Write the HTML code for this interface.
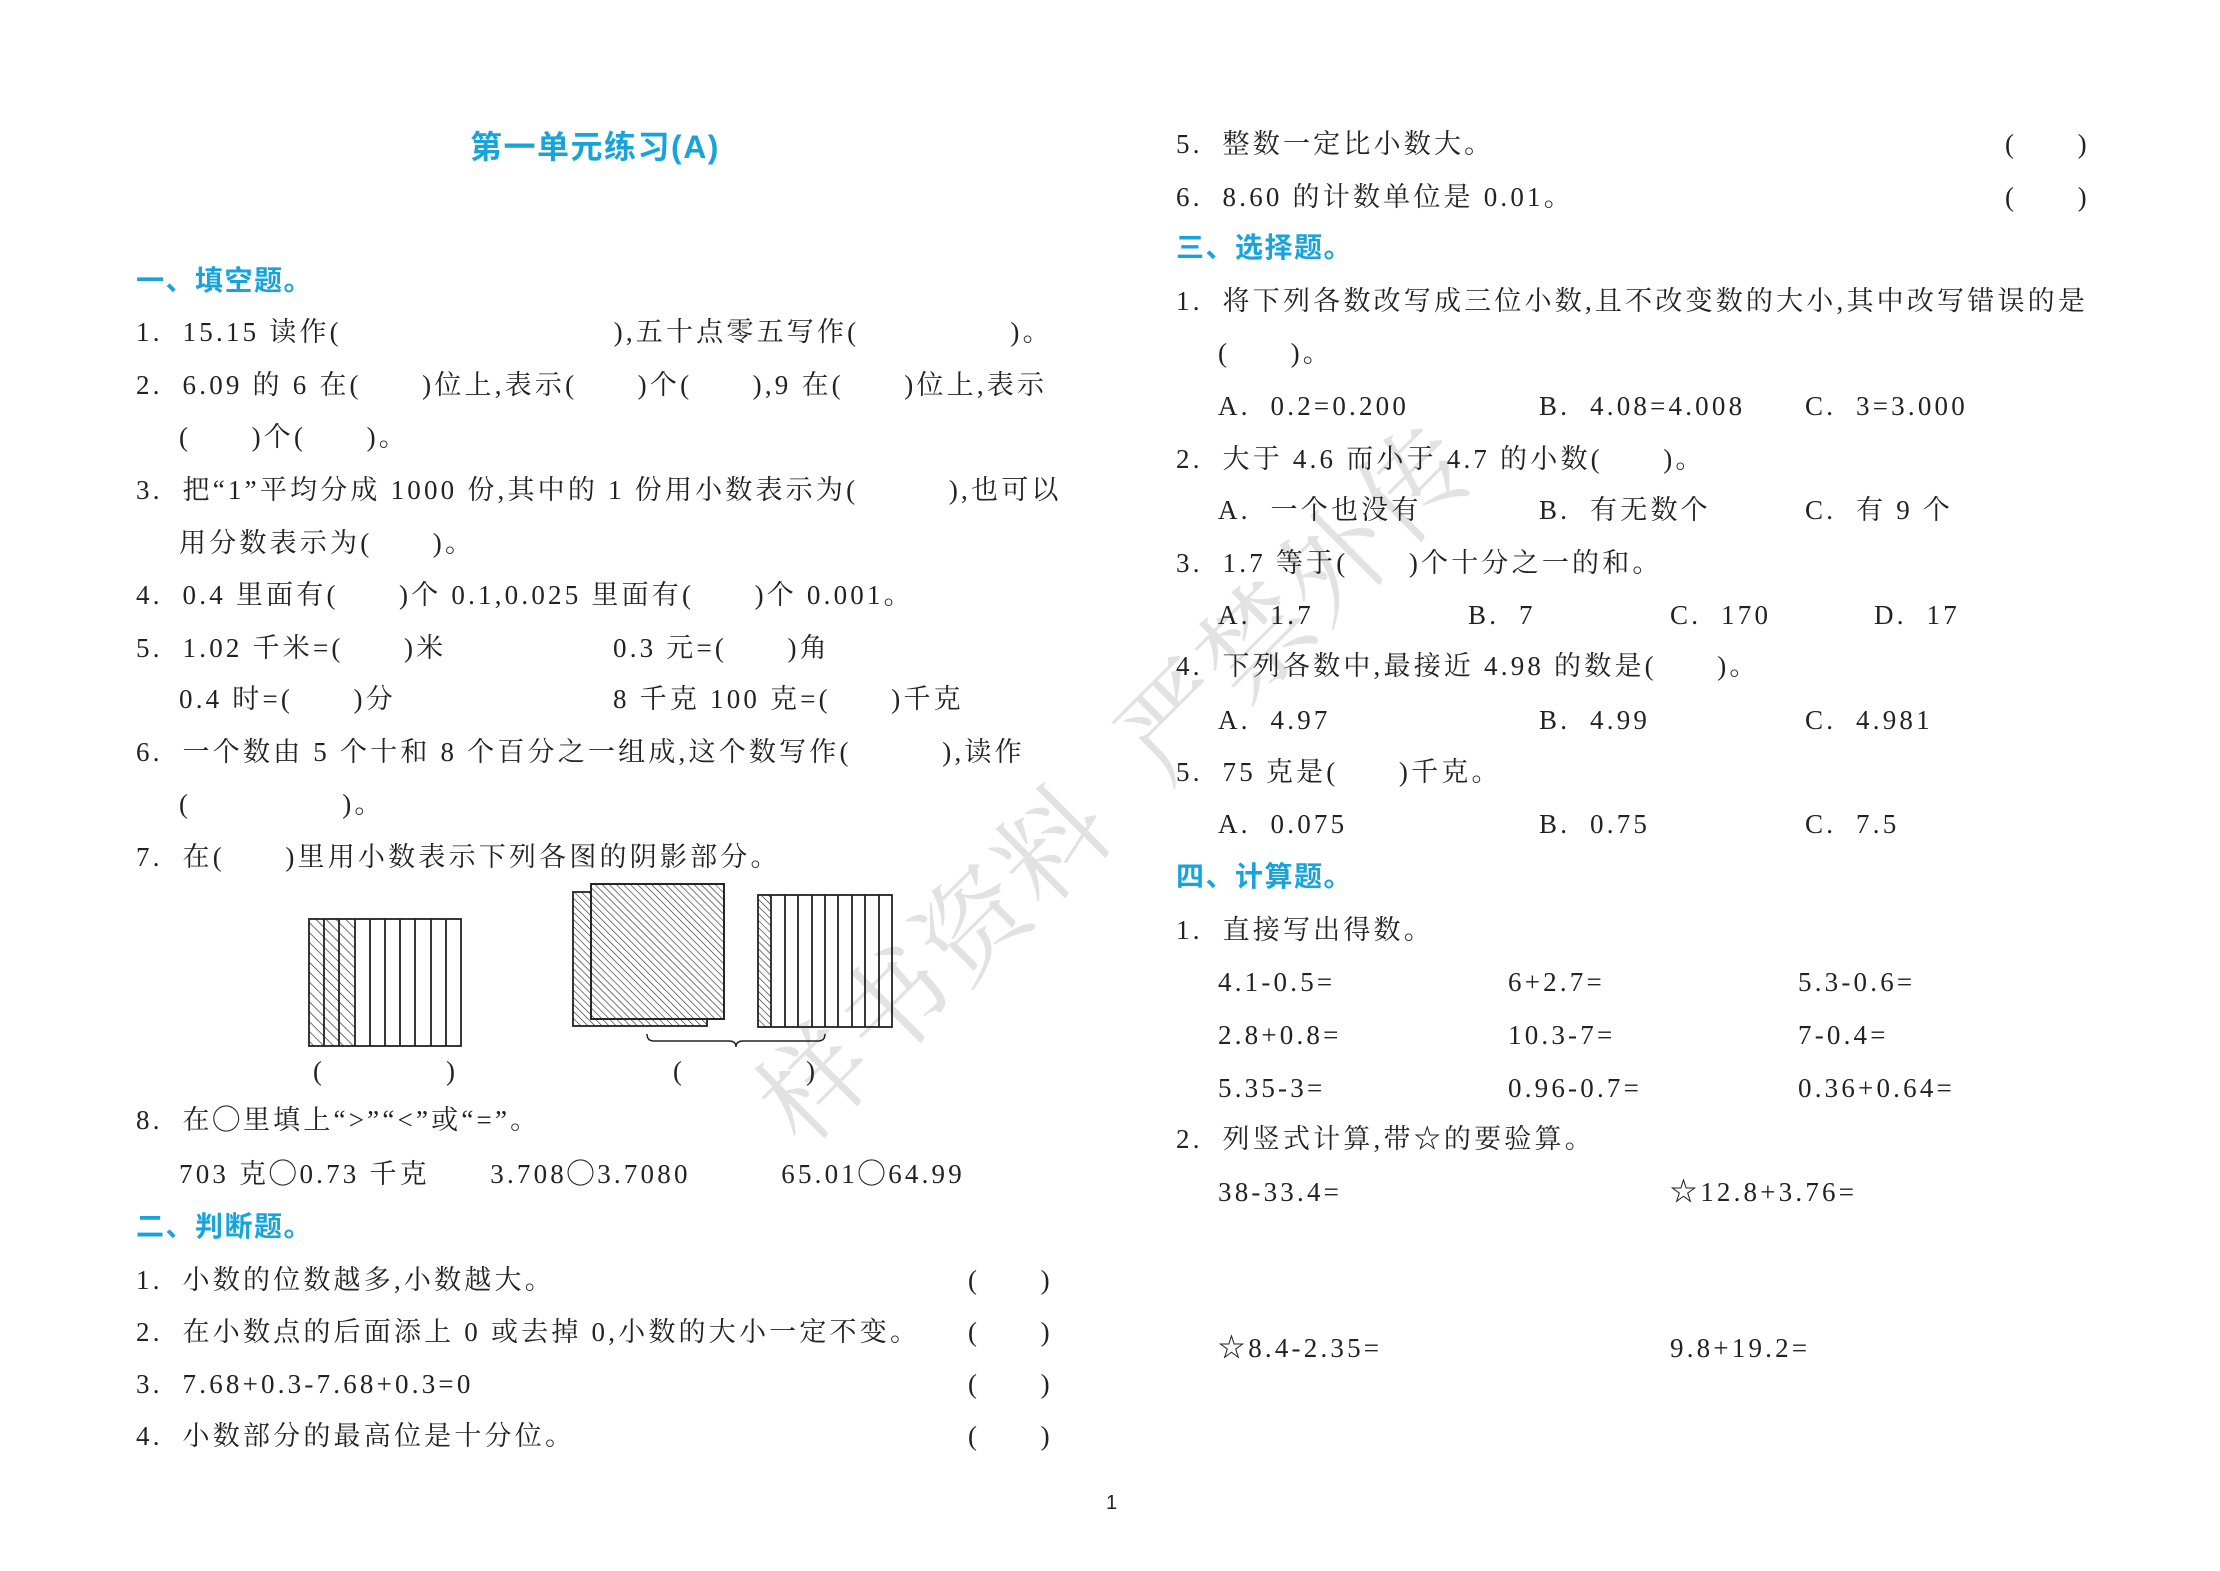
<!DOCTYPE html>
<html><head><meta charset="utf-8"><style>
body{margin:0;background:#fff}
#pg{position:relative;width:2220px;height:1571px;overflow:hidden;font-family:"Liberation Serif","Noto Serif CJK SC",serif;color:#222;}
.l{position:absolute;height:40px;line-height:40px;font-size:27px;white-space:pre;letter-spacing:3.2px}
.h{color:#17a3db;font-family:"Liberation Sans","Noto Sans CJK SC",sans-serif;font-weight:bold;font-size:28px;letter-spacing:1.5px}
.wm{position:absolute;left:1110px;top:776px;transform:translate(-50%,-50%) rotate(-45deg);font-size:108px;color:#e2e2e2;white-space:pre;font-family:"Noto Serif CJK SC",serif;letter-spacing:4px}
</style></head><body><div id="pg">
<div class="wm">样书资料  严禁外传</div>
<div class="l h" style="left:0;width:1190px;text-align:center;top:127px;font-size:32px">第一单元练习(A)</div>

<div class="l h" style="left:136px;top:261px">一、填空题。</div>
<div class="l" style="left:136px;top:312px">1.  15.15 读作(　　　　　　　　　),五十点零五写作(　　　　　)。</div>
<div class="l" style="left:136px;top:365px">2.  6.09 的 6 在(　　)位上,表示(　　)个(　　),9 在(　　)位上,表示</div>
<div class="l" style="left:179px;top:417px">(　　)个(　　)。</div>
<div class="l" style="left:136px;top:470px">3.  把“1”平均分成 1000 份,其中的 1 份用小数表示为(　　　),也可以</div>
<div class="l" style="left:179px;top:523px">用分数表示为(　　)。</div>
<div class="l" style="left:136px;top:575px">4.  0.4 里面有(　　)个 0.1,0.025 里面有(　　)个 0.001。</div>
<div class="l" style="left:136px;top:628px">5.  1.02 千米=(　　)米</div>
<div class="l" style="left:613px;top:628px">0.3 元=(　　)角</div>
<div class="l" style="left:179px;top:679px">0.4 时=(　　)分</div>
<div class="l" style="left:613px;top:679px">8 千克 100 克=(　　)千克</div>
<div class="l" style="left:136px;top:732px">6.  一个数由 5 个十和 8 个百分之一组成,这个数写作(　　　),读作</div>
<div class="l" style="left:179px;top:784px">(　　　　　)。</div>
<div class="l" style="left:136px;top:837px">7.  在(　　)里用小数表示下列各图的阴影部分。</div>
<div class="l" style="left:136px;top:1100px">8.  在◯里填上“>”“<”或“=”。</div>
<div class="l" style="left:179px;top:1154px">703 克◯0.73 千克　　3.708◯3.7080　　　65.01◯64.99</div>
<div class="l h" style="left:136px;top:1207px">二、判断题。</div>
<div class="l" style="left:136px;top:1260px">1.  小数的位数越多,小数越大。</div>
<div class="l" style="left:136px;top:1312px">2.  在小数点的后面添上 0 或去掉 0,小数的大小一定不变。</div>
<div class="l" style="left:136px;top:1364px">3.  7.68+0.3-7.68+0.3=0</div>
<div class="l" style="left:136px;top:1416px">4.  小数部分的最高位是十分位。</div>
<div class="l" style="left:968px;top:1260px">(　　)</div>
<div class="l" style="left:968px;top:1312px">(　　)</div>
<div class="l" style="left:968px;top:1364px">(　　)</div>
<div class="l" style="left:968px;top:1416px">(　　)</div>
<div class="l" style="left:313px;top:1051px">(　　　　)</div>
<div class="l" style="left:673px;top:1051px">(　　　　)</div>

<div class="l" style="left:1176px;top:124px">5.  整数一定比小数大。</div>
<div class="l" style="left:1176px;top:177px">6.  8.60 的计数单位是 0.01。</div>
<div class="l" style="left:2005px;top:124px">(　　)</div>
<div class="l" style="left:2005px;top:177px">(　　)</div>
<div class="l h" style="left:1176px;top:228px">三、选择题。</div>
<div class="l" style="left:1176px;top:281px">1.  将下列各数改写成三位小数,且不改变数的大小,其中改写错误的是</div>
<div class="l" style="left:1218px;top:333px">(　　)。</div>
<div class="l" style="left:1218px;top:386px">A.  0.2=0.200</div>
<div class="l" style="left:1539px;top:386px">B.  4.08=4.008</div>
<div class="l" style="left:1805px;top:386px">C.  3=3.000</div>
<div class="l" style="left:1176px;top:439px">2.  大于 4.6 而小于 4.7 的小数(　　)。</div>
<div class="l" style="left:1218px;top:490px">A.  一个也没有</div>
<div class="l" style="left:1539px;top:490px">B.  有无数个</div>
<div class="l" style="left:1805px;top:490px">C.  有 9 个</div>
<div class="l" style="left:1176px;top:543px">3.  1.7 等于(　　)个十分之一的和。</div>
<div class="l" style="left:1218px;top:595px">A.  1.7</div>
<div class="l" style="left:1468px;top:595px">B.  7</div>
<div class="l" style="left:1670px;top:595px">C.  170</div>
<div class="l" style="left:1874px;top:595px">D.  17</div>
<div class="l" style="left:1176px;top:646px">4.  下列各数中,最接近 4.98 的数是(　　)。</div>
<div class="l" style="left:1218px;top:700px">A.  4.97</div>
<div class="l" style="left:1539px;top:700px">B.  4.99</div>
<div class="l" style="left:1805px;top:700px">C.  4.981</div>
<div class="l" style="left:1176px;top:752px">5.  75 克是(　　)千克。</div>
<div class="l" style="left:1218px;top:804px">A.  0.075</div>
<div class="l" style="left:1539px;top:804px">B.  0.75</div>
<div class="l" style="left:1805px;top:804px">C.  7.5</div>
<div class="l h" style="left:1176px;top:857px">四、计算题。</div>
<div class="l" style="left:1176px;top:910px">1.  直接写出得数。</div>
<div class="l" style="left:1218px;top:962px">4.1-0.5=</div>
<div class="l" style="left:1508px;top:962px">6+2.7=</div>
<div class="l" style="left:1798px;top:962px">5.3-0.6=</div>
<div class="l" style="left:1218px;top:1015px">2.8+0.8=</div>
<div class="l" style="left:1508px;top:1015px">10.3-7=</div>
<div class="l" style="left:1798px;top:1015px">7-0.4=</div>
<div class="l" style="left:1218px;top:1068px">5.35-3=</div>
<div class="l" style="left:1508px;top:1068px">0.96-0.7=</div>
<div class="l" style="left:1798px;top:1068px">0.36+0.64=</div>
<div class="l" style="left:1176px;top:1119px">2.  列竖式计算,带☆的要验算。</div>
<div class="l" style="left:1218px;top:1172px">38-33.4=</div>
<div class="l" style="left:1670px;top:1172px">☆12.8+3.76=</div>
<div class="l" style="left:1218px;top:1328px">☆8.4-2.35=</div>
<div class="l" style="left:1670px;top:1328px">9.8+19.2=</div>
<div class="l" style="left:1106px;top:1483px;font-size:20px;font-family:'Liberation Sans',sans-serif">1</div>

<svg style="position:absolute;left:0;top:0" width="2220" height="1571">
<defs>
<pattern id="hs" patternUnits="userSpaceOnUse" width="7" height="7" patternTransform="rotate(-45)"><line x1="0" y1="0" x2="0" y2="7" stroke="#222" stroke-width="1.3"/></pattern>
<pattern id="hd" patternUnits="userSpaceOnUse" width="5" height="5" patternTransform="rotate(-45)"><line x1="0" y1="0" x2="0" y2="5" stroke="#222" stroke-width="1.2"/></pattern>
</defs>
<g stroke="#222" stroke-width="1.8" fill="none">
<rect x="309" y="919" width="46" height="127" fill="url(#hs)" stroke="none"/>
<rect x="309" y="919" width="152" height="127"/>
<line x1="324" y1="919" x2="324" y2="1046"/><line x1="339" y1="919" x2="339" y2="1046"/><line x1="355" y1="919" x2="355" y2="1046"/><line x1="370" y1="919" x2="370" y2="1046"/><line x1="385" y1="919" x2="385" y2="1046"/><line x1="400" y1="919" x2="400" y2="1046"/><line x1="415" y1="919" x2="415" y2="1046"/><line x1="431" y1="919" x2="431" y2="1046"/><line x1="446" y1="919" x2="446" y2="1046"/>
<rect x="573" y="892" width="134" height="134" fill="url(#hd)"/>
<rect x="591" y="884" width="133" height="135" fill="#fff"/>
<rect x="591" y="884" width="133" height="135" fill="url(#hd)"/>
<rect x="758" y="895" width="13.4" height="132" fill="url(#hd)" stroke="none"/>
<rect x="758" y="895" width="134" height="132"/>
<line x1="771" y1="895" x2="771" y2="1027"/><line x1="785" y1="895" x2="785" y2="1027"/><line x1="798" y1="895" x2="798" y2="1027"/><line x1="812" y1="895" x2="812" y2="1027"/><line x1="825" y1="895" x2="825" y2="1027"/><line x1="838" y1="895" x2="838" y2="1027"/><line x1="852" y1="895" x2="852" y2="1027"/><line x1="865" y1="895" x2="865" y2="1027"/><line x1="879" y1="895" x2="879" y2="1027"/>
<path d="M647 1034 Q647 1041 654 1041 L729 1041 Q736 1041 736 1047 Q736 1041 743 1041 L818 1041 Q825 1041 825 1034" stroke-width="1.5"/>
</g>
</svg>
</div></body></html>
